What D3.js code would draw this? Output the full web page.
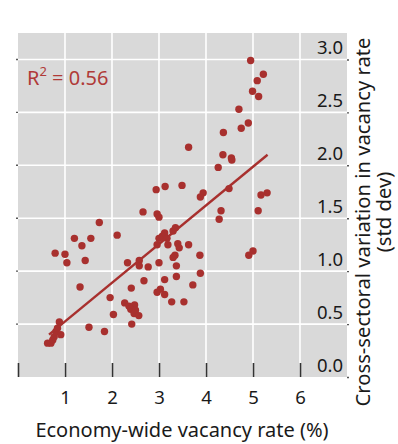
<!DOCTYPE html>
<html>
<head>
<meta charset="utf-8">
<script src="https://cdn.jsdelivr.net/npm/d3@7"></script>
<style>
  html, body { margin: 0; padding: 0; background: #ffffff; }
  svg { display: block; font-family: "Noto Sans", "Open Sans", sans-serif; }
</style>
</head>
<body>
<svg id="chart" width="398" height="444"></svg>
<script>
// Economy-wide vacancy rate (%) for each observation
const vacancyRate = [
  0.63, 0.70, 0.74, 0.77, 0.81, 0.84, 0.88, 0.91,
  0.79, 1.00, 1.04, 1.20, 1.36, 1.55, 1.43, 1.73, 2.11,
  1.32, 1.51, 1.84, 1.96, 2.03,
  2.27, 2.36, 2.48, 2.40, 2.50, 2.47, 2.57, 2.42,
  2.33, 2.58, 2.58, 2.77, 2.68, 2.41, 3.00,
  3.03, 2.96, 3.12, 3.12, 3.27, 3.53, 3.72, 3.88, 3.37, 3.37, 3.34, 3.30,
  3.87, 3.63, 3.40, 3.43,
  3.12, 3.07, 3.00, 3.17, 2.96, 3.19, 3.30, 3.35,
  2.66, 2.96, 3.00, 2.94, 3.13, 3.49, 3.94, 3.88, 3.63,
  4.26, 4.36, 4.54, 4.55, 4.37, 4.49, 4.32, 4.28, 4.75, 4.90, 4.70,
  4.99, 5.12, 5.09, 5.22, 4.95, 5.17, 5.30, 5.11, 5.00, 4.91
];

// Cross-sectoral standard deviation of vacancy rates, same order
const sectoralSpread = [
  0.32, 0.32, 0.35, 0.38, 0.43, 0.46, 0.52, 0.40,
  1.17, 1.16, 1.08, 1.31, 1.24, 1.31, 1.10, 1.46, 1.34,
  0.85, 0.47, 0.43, 0.75, 0.59,
  0.70, 0.67, 0.68, 0.64, 0.63, 0.60, 0.58, 0.50,
  1.08, 1.10, 1.05, 1.04, 0.91, 0.84, 1.08,
  0.83, 0.80, 0.78, 0.92, 0.71, 0.71, 0.87, 0.98, 0.95, 1.05, 1.15, 1.13,
  1.15, 1.25, 1.26, 1.22,
  1.36, 1.33, 1.31, 1.31, 1.25, 1.25, 1.38, 1.41,
  1.56, 1.54, 1.51, 1.77, 1.80, 1.81, 1.74, 1.70, 2.17,
  1.98, 2.10, 2.07, 2.05, 2.31, 1.78, 1.57, 1.49, 2.35, 2.40, 2.53,
  2.70, 2.65, 2.80, 2.86, 2.99, 1.72, 1.74, 1.57, 1.19, 1.15
];

// Fitted linear trend, drawn between its two end points
const fitX = [0.66, 5.31];
const fitY = [0.40, 2.10];
const rSquared = "0.56";

// Axis ticks
const xTicks = [0, 1, 2, 3, 4, 5, 6];
const xTickLabels = ["", "1", "2", "3", "4", "5", "6"];
const yTicks = [0, 0.5, 1.0, 1.5, 2.0, 2.5, 3.0];
const yTickLabels = ["0.0", "0.5", "1.0", "1.5", "2.0", "2.5", "3.0"];

const xTitle = "Economy-wide vacancy rate (%)";
const yTitleLines = ["Cross-sectoral variation in vacancy rate", "(std dev)"];

const red = "#a8302e";
const panel = { left: 18, right: 347, top: 33, bottom: 377 };

const svg = d3.select("#chart");

const x = d3.scaleLinear().domain([0, 7]).range([panel.left, panel.right]);
const y = d3.scaleLinear().domain([0, 3.25]).range([panel.bottom, panel.top]);

// Grey panel
svg.append("rect")
  .attr("x", panel.left).attr("y", panel.top)
  .attr("width", panel.right - panel.left)
  .attr("height", panel.bottom - panel.top)
  .attr("fill", "#d9d9d9");

// White grid
const grid = svg.append("g").attr("stroke", "#ffffff").attr("stroke-width", 1.6);
grid.selectAll("line.v").data(xTicks.filter(d => d > 0)).join("line")
  .attr("class", "v")
  .attr("x1", d => x(d)).attr("x2", d => x(d))
  .attr("y1", panel.top).attr("y2", panel.bottom);
grid.selectAll("line.h").data(yTicks.filter(d => d > 0)).join("line")
  .attr("class", "h")
  .attr("x1", panel.left).attr("x2", panel.right)
  .attr("y1", d => y(d)).attr("y2", d => y(d));

// Bottom axis: ticks pointing up into the panel
const xAxis = svg.append("g")
  .attr("transform", `translate(0,${panel.bottom})`)
  .call(d3.axisBottom(x).tickValues(xTicks).tickSizeInner(-14).tickSizeOuter(0)
    .tickFormat((d, i) => xTickLabels[i]));
xAxis.select(".domain").remove();
xAxis.selectAll(".tick line").attr("stroke", "#333333").attr("stroke-width", 1.6);
xAxis.selectAll(".tick text")
  .attr("y", 27).attr("dy", 0)
  .attr("font-size", 18.5).attr("fill", "#1a1a1a")
  .attr("font-family", "Noto Sans, sans-serif");

// Small outer ticks on the left edge
svg.append("g").selectAll("line").data(yTicks.filter(d => d > 0)).join("line")
  .attr("x1", panel.left - 2).attr("x2", panel.left)
  .attr("y1", d => y(d)).attr("y2", d => y(d))
  .attr("stroke", "#555555").attr("stroke-width", 1.4);

// Right axis labels sit inside the panel, just above each grid line
const yAxis = svg.append("g")
  .attr("transform", `translate(${panel.right},0)`)
  .call(d3.axisRight(y).tickValues(yTicks).tickSizeInner(2).tickSizeOuter(0)
    .tickFormat((d, i) => yTickLabels[i]));
yAxis.select(".domain").remove();
yAxis.selectAll(".tick line").attr("stroke", "#555555").attr("stroke-width", 1.4);
yAxis.selectAll(".tick text")
  .attr("x", -4).attr("dy", -6)
  .attr("text-anchor", "end")
  .attr("font-size", 18.5).attr("fill", "#1a1a1a")
  .attr("font-family", "Noto Sans, sans-serif");

// Points
svg.append("g").selectAll("circle")
  .data(d3.zip(vacancyRate, sectoralSpread)).join("circle")
  .attr("cx", d => x(d[0]))
  .attr("cy", d => y(d[1]))
  .attr("r", 3.7)
  .attr("fill", red);

// Trend line
svg.append("path")
  .datum(d3.zip(fitX, fitY))
  .attr("d", d3.line().x(d => x(d[0])).y(d => y(d[1])))
  .attr("fill", "none")
  .attr("stroke", red)
  .attr("stroke-width", 2.4);

// R-squared annotation
const r2 = svg.append("text")
  .attr("x", 27).attr("y", 85)
  .attr("font-size", 20).attr("fill", "#b03a38");
r2.append("tspan").text("R");
r2.append("tspan").attr("font-size", 13).attr("dy", -9).text("2");
r2.append("tspan").attr("dy", 9).text(" = " + rSquared);

// Axis titles
svg.append("text")
  .attr("x", 182).attr("y", 437)
  .attr("text-anchor", "middle")
  .attr("font-size", 20).attr("fill", "#1a1a1a")
  .text(xTitle);

const yTitle = svg.append("text")
  .attr("transform", "translate(370,222) rotate(-90)")
  .attr("text-anchor", "middle")
  .attr("font-size", 20.2).attr("fill", "#1a1a1a");
yTitle.append("tspan").attr("x", 0).attr("y", 0).text(yTitleLines[0]);
yTitle.append("tspan").attr("x", 10).attr("y", 21).text(yTitleLines[1]);
</script>
</body>
</html>
